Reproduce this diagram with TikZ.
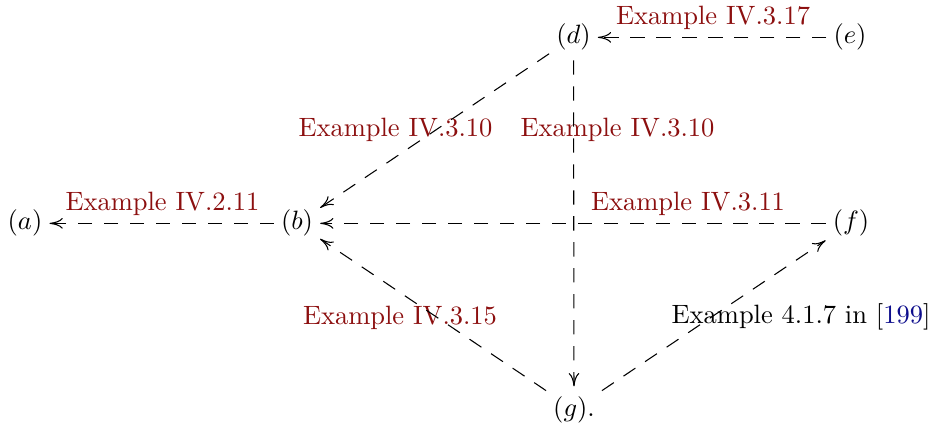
\documentclass[tikz,border=0pt]{standalone}
\usetikzlibrary{arrows.meta}
\definecolor{linkred}{rgb}{0.55,0.06,0.06}
\definecolor{citeblue}{rgb}{0.05,0.05,0.55}
\begin{document}
\begin{tikzpicture}[x=0.3774pt,y=-0.3774pt,
  obj/.style={anchor=base,inner xsep=2.5pt,inner ysep=3.5pt},
  lbl/.style={anchor=base,inner sep=0pt,text=linkred},
  arr/.style={-{Computer Modern Rightarrow[length=5pt,width=4pt]},dash pattern=on 5.4pt off 4.4pt,line width=0.4pt}]
\useasboundingbox (0,0) rectangle (933,425);
\node[obj] (a) at (25,230) {$(a)$};
\node[obj] (b) at (297,230) {$(b)$};
\node[obj] (d) at (573.5,44) {$(d)$};
\node[obj] (e) at (850,44) {$(e)$};
\node[obj] (f) at (851,230) {$(f)$};
\node[obj] (g) at (574,416) {$(g)$.};
\node[lbl] (l1) at (713,25) {Example IV.3.17};
\node[lbl] (l2) at (395.5,137) {Example IV.3.10};
\node[lbl] (l3) at (617.5,137) {Example IV.3.10};
\node[lbl] (l4) at (162.5,211) {Example IV.2.11};
\node[lbl] (l5) at (688,211) {Example IV.3.11};
\node[lbl] (l6) at (400,325) {Example IV.3.15};
\node[anchor=base,inner sep=0pt] (l7) at (801,324) {Example 4.1.7 in [\textcolor{citeblue}{199}]};
\draw[arr] (e) -- (d);
\draw[arr] (b) -- (a);
\draw[arr] (d) -- (b);
\draw[arr] (d) -- (g);
\draw[arr] (f) -- (b);
\draw[arr] (g) -- (b);
\draw[arr] (g) -- (f);
\end{tikzpicture}
\end{document}
